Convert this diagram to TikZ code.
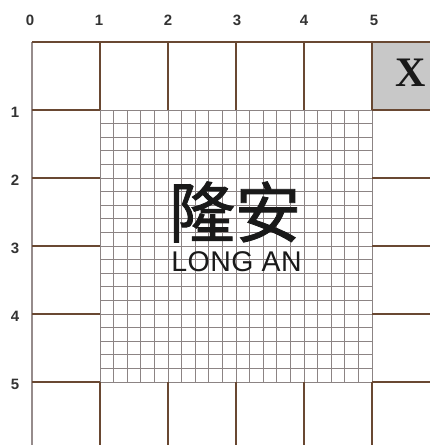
\documentclass[tikz,border=0pt]{standalone}
\usepackage{fontspec}
\setmainfont{Liberation Serif}
\setsansfont{Liberation Sans}
\newfontfamily\cjk{Noto Sans CJK SC}[FakeBold=1.3]
\definecolor{mainline}{RGB}{105,72,50}
\definecolor{edgeline}{RGB}{150,140,140}
\definecolor{fineline}{RGB}{140,132,132}
\definecolor{xfill}{RGB}{200,200,200}
\tikzset{
  mainln/.style={draw=mainline, line width=1.1pt},
  edgeln/.style={draw=edgeline, line width=1.1pt},
  fineln/.style={draw=fineline, line width=0.9pt},
  axlabel/.style={font=\sffamily\bfseries\fontsize{15}{15}\selectfont, inner sep=0pt, text=black!80},
}
\begin{document}
\begin{tikzpicture}[x=1pt,y=-1pt]
\useasboundingbox (0,0) rectangle (430,445);
\fill[white] (0,0) rectangle (430,445);
% X cell
\fill[xfill] (372,42) rectangle (432,110);
% fine grid
\foreach \i in {0,...,20} {
  \draw[fineln] ({100+13.6*\i},110) -- ({100+13.6*\i},382);
  \draw[fineln] (100,{110+13.6*\i}) -- (372,{110+13.6*\i});
}
% main lines
\draw[edgeln] (32,42) -- (32,446);
\draw[mainln] (32,42) -- (431,42);
\foreach \k in {1,...,5} {
  \draw[mainln] ({32+68*\k},42) -- ({32+68*\k},110);
  \draw[mainln] ({32+68*\k},382) -- ({32+68*\k},446);
  \draw[mainln] (32,{42+68*\k}) -- (100,{42+68*\k});
  \draw[mainln] (372,{42+68*\k}) -- (431,{42+68*\k});
}
% axis labels
\foreach \k/\xx in {0/30,1/99,2/168,3/237,4/304,5/374}
  \node[axlabel] (c\k) at (\xx,20.5) {\k};
\foreach \k in {1,...,5}
  \node[axlabel] (r\k) at (15,{44.5+68*\k}) {\k};
% X
\node[font=\bfseries\fontsize{42}{42}\selectfont, inner sep=0pt, text=black!90] (xmark) at (411,72.5) {X};
% station name
\node[font=\cjk\fontsize{66}{66}\selectfont, inner sep=0pt, text=black!90] (cn) at (235,212) {隆安};
\node[font=\sffamily\fontsize{28.5}{28.5}\selectfont, inner sep=0pt, text=black!90] (en) at (236.5,261.5) {L\kern0.5pt O\kern0.5pt N\kern0.5pt G A\kern0.5pt N};
\end{tikzpicture}
\end{document}
